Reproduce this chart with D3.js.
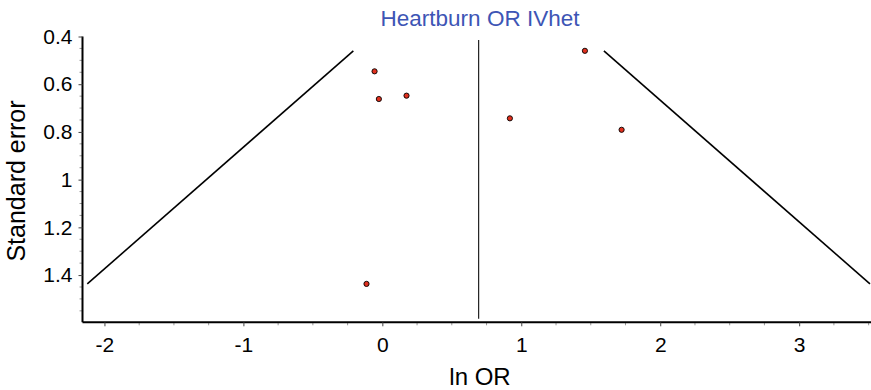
<!DOCTYPE html>
<html>
<head>
<meta charset="utf-8">
<script src="https://cdn.jsdelivr.net/npm/d3@7"></script>
<style>
  html, body { margin: 0; padding: 0; background: #fff; }
  svg { display: block; font-family: "Liberation Sans", Arial, sans-serif; }
</style>
</head>
<body>
<svg id="chart" width="871" height="390"></svg>
<script>
// ---- data ----
const lnOR = [-0.056, -0.025, 0.174, 1.458, 0.918, 1.722, -0.114];
const stdErr = [0.546, 0.662, 0.648, 0.460, 0.743, 0.791, 1.437];
const pooledLnOR = 0.693;
const zCrit = 1.96;
const xTicks = [-2, -1, 0, 1, 2, 3];
const yTicks = [0.4, 0.6, 0.8, 1, 1.2, 1.4];
const titleText = "Heartburn OR IVhet";
const xLabel = "ln OR";
const yLabel = "Standard error";

// ---- layout ----
const svg = d3.select("#chart");
const x = d3.scaleLinear().domain([-2.158, 3.517]).range([82.5, 871]);
const y = d3.scaleLinear().domain([0.4, 1.598]).range([36.5, 322.3]);

const xMinor = d3.range(-2.0, 3.51, 0.25).filter(v => Math.abs(v - Math.round(v)) > 1e-6);
const yMinor = d3.range(0.45, 1.6, 0.05).filter(v => Math.abs(v * 5 - Math.round(v * 5)) > 1e-6);

const axisY = 322.3, axisX = 82.5;
const font = "'Liberation Sans', Arial, sans-serif";

svg.append("g").selectAll("line").data(xMinor).join("line")
  .attr("x1", d => x(d)).attr("x2", d => x(d))
  .attr("y1", axisY).attr("y2", axisY + 3)
  .attr("stroke", "#999").attr("stroke-width", 1);
svg.append("g").selectAll("line").data(yMinor).join("line")
  .attr("x1", axisX).attr("x2", axisX - 3)
  .attr("y1", d => y(d)).attr("y2", d => y(d))
  .attr("stroke", "#999").attr("stroke-width", 1);

// x axis
const gx = svg.append("g").attr("transform", `translate(0,${axisY})`)
  .call(d3.axisBottom(x).tickValues(xTicks).tickFormat(d => String(d)).tickSize(4).tickPadding(11));
gx.select(".domain").attr("stroke", "#000").attr("stroke-width", 2)
  .attr("d", `M${axisX},0H871`);
gx.selectAll(".tick line").attr("stroke", "#444");
gx.selectAll("text").attr("font-size", 21).attr("fill", "#000").attr("font-family", font);

// y axis
const gy = svg.append("g").attr("transform", `translate(${axisX},0)`)
  .call(d3.axisLeft(y).tickValues(yTicks).tickFormat(d => String(+d.toFixed(1))).tickSize(4).tickPadding(6));
gy.select(".domain").attr("stroke", "#000").attr("stroke-width", 2)
  .attr("d", `M0,${y(0.4)}V${axisY}`);
gy.selectAll(".tick line").attr("stroke", "#444");
gy.selectAll("text").attr("font-size", 21).attr("fill", "#000").attr("font-family", font);

// vertical pooled line
svg.append("line")
  .attr("x1", x(pooledLnOR)).attr("x2", x(pooledLnOR))
  .attr("y1", y(0.415)).attr("y2", y(1.583))
  .attr("stroke", "#222").attr("stroke-width", 1.2);

// funnel lines
const seMin = d3.min(stdErr), seMax = d3.max(stdErr);
const line = d3.line().x(d => x(d[0])).y(d => y(d[1]));
svg.append("path")
  .attr("d", line([[pooledLnOR - zCrit * seMax, seMax], [pooledLnOR - zCrit * seMin, seMin]]))
  .attr("fill", "none").attr("stroke", "#000").attr("stroke-width", 1.6);
svg.append("path")
  .attr("d", line([[pooledLnOR + zCrit * seMin, seMin], [pooledLnOR + zCrit * seMax, seMax]]))
  .attr("fill", "none").attr("stroke", "#000").attr("stroke-width", 1.6);

// points
svg.append("g").selectAll("circle").data(lnOR.map((v, i) => [v, stdErr[i]])).join("circle")
  .attr("cx", d => x(d[0])).attr("cy", d => y(d[1])).attr("r", 2.6)
  .attr("fill", "#e0301e").attr("stroke", "#000").attr("stroke-width", 0.9);

// title
svg.append("text").attr("x", 480).attr("y", 25.5).attr("text-anchor", "middle")
  .attr("font-size", 22.5).attr("fill", "#3d55b5").attr("font-family", font).text(titleText);
// x label
svg.append("text").attr("x", 480).attr("y", 385).attr("text-anchor", "middle")
  .attr("font-size", 24).attr("fill", "#000").attr("font-family", font).text(xLabel);
// y label
svg.append("text").attr("transform", "translate(25,181) rotate(-90)").attr("text-anchor", "middle")
  .attr("font-size", 25).attr("fill", "#000").attr("font-family", font).text(yLabel);
</script>
</body>
</html>
